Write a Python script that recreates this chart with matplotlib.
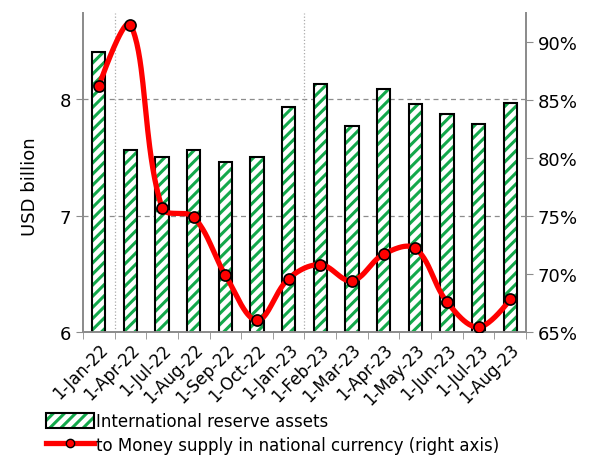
import numpy as np
import matplotlib
matplotlib.use("Agg")
import matplotlib.pyplot as plt
from matplotlib.patches import Patch
from matplotlib.lines import Line2D
from matplotlib.legend_handler import HandlerTuple

plt.rcParams['font.family'] = ['DejaVu Sans']
plt.rcParams['hatch.linewidth'] = 2.2

dates = ["1-Jan-22", "1-Apr-22", "1-Jul-22", "1-Aug-22", "1-Sep-22", "1-Oct-22", "1-Jan-23",
         "1-Feb-23", "1-Mar-23", "1-Apr-23", "1-May-23", "1-Jun-23", "1-Jul-23", "1-Aug-23"]
reserves = [8.41, 7.56, 7.50, 7.56, 7.46, 7.50, 7.93, 8.13, 7.77, 8.09, 7.96, 7.87, 7.79, 7.97]
money_share = [86.2, 91.5, 75.7, 74.9, 69.9, 66.0, 69.6, 70.8, 69.4, 71.7, 72.2, 67.6, 65.4, 67.8]


def smooth(xs, ys, sx=31.6, sy=11.6, t=0.36, n=40):
    # excel-like smoothed line, bezier built in screen space
    P = np.column_stack([np.asarray(xs, float) * sx, np.asarray(ys, float) * sy])
    m = len(P)
    cin, cout = P.copy(), P.copy()
    for i in range(1, m - 1):
        d01 = np.linalg.norm(P[i] - P[i - 1])
        d12 = np.linalg.norm(P[i + 1] - P[i])
        d = P[i + 1] - P[i - 1]
        cin[i] = P[i] - t * d01 / (d01 + d12) * d
        cout[i] = P[i] + t * d12 / (d01 + d12) * d
    pts = []
    tt = np.linspace(0, 1, n)[:, None]
    for i in range(m - 1):
        b = ((1 - tt) ** 3 * P[i] + 3 * (1 - tt) ** 2 * tt * cout[i]
             + 3 * (1 - tt) * tt ** 2 * cin[i + 1] + tt ** 3 * P[i + 1])
        pts.append(b)
    pts = np.vstack(pts)
    return pts[:, 0] / sx, pts[:, 1] / sy


x = np.arange(len(dates))
green = '#13a84b'
gray = '#8c8c8c'

fig = plt.figure(figsize=(5.95, 4.56), dpi=100)
ax = fig.add_axes([0.1395, 0.27, 0.7445, 0.699])
ax2 = ax.twinx()

ax.bar(x, reserves, width=0.42, color='white', edgecolor=green, hatch='///', linewidth=0, zorder=2)
ax.bar(x, reserves, width=0.42, fill=False, edgecolor='black', linewidth=1.5, zorder=3)

ax.set_xlim(-0.5, len(dates) - 0.5)
ax.set_ylim(6, 8.74)
ax.set_yticks([6, 7, 8])
ax.set_ylabel("USD billion", fontsize=13)
ax.yaxis.set_label_coords(-0.10, 0.46)
for yv in [7, 8]:
    ax.axhline(yv, color=gray, ls=(0, (4, 3)), lw=0.9, zorder=1)
for xv in [0.5, 6.5]:
    ax.axvline(xv, color='#aaaaaa', ls=':', lw=0.9, zorder=1)

ax.set_xticks(x)
ax.set_xticklabels(dates, rotation=45, ha='right', rotation_mode='anchor', fontsize=12)
ax.set_xticks(np.arange(-0.5, len(dates)), minor=True)
ax.tick_params(axis='x', which='major', length=0, pad=6)
ax.tick_params(axis='x', which='minor', length=5, color=gray, direction='out')
ax.tick_params(axis='y', labelsize=13, color=gray, length=5)

cx, cy = smooth(x, money_share)
ax2.plot(cx, cy, color='red', lw=3.8, zorder=4, solid_capstyle='round')
ax2.plot(x, money_share, 'o', color='red', markeredgecolor='black', markersize=8, markeredgewidth=1.2, zorder=5)
ax2.set_ylim(65, 92.5)
ax2.set_yticks([65, 70, 75, 80, 85, 90])
ax2.set_yticklabels([f"{v}%" for v in [65, 70, 75, 80, 85, 90]])
ax2.tick_params(axis='y', labelsize=13, color=gray, length=5)

for a in (ax, ax2):
    a.spines['top'].set_visible(False)
    for s in ['left', 'right', 'bottom']:
        a.spines[s].set_color(gray)
        a.spines[s].set_linewidth(1.3)

bar_handle = (Patch(facecolor='white', edgecolor=green, hatch='///', linewidth=0),
              Patch(fill=False, edgecolor='black', linewidth=1.5))
line_handle = Line2D([0], [0], color='red', lw=3.8, marker='o', markerfacecolor='red',
                     markeredgecolor='black', markersize=6)
leg = fig.legend([bar_handle, line_handle],
                 ["International reserve assets",
                  "to Money supply in national currency (right axis)"],
                 handler_map={tuple: HandlerTuple(ndivide=1, pad=0)},
                 loc='lower left', bbox_to_anchor=(0.066, -0.012), frameon=False, fontsize=12,
                 handlelength=2.9, handleheight=1.0, handletextpad=0.1, labelspacing=0.35,
                 borderaxespad=0)

fig.savefig("out.png", dpi=100)
